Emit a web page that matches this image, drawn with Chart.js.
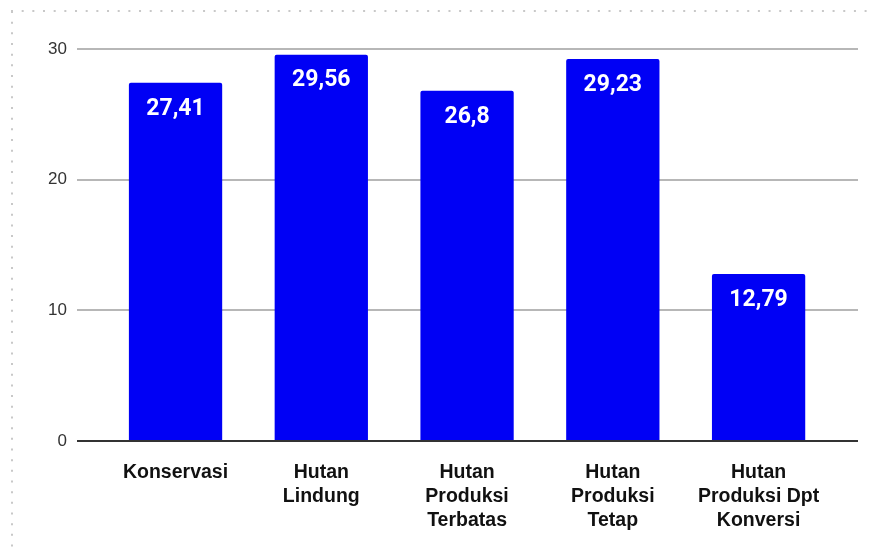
<!DOCTYPE html>
<html>
<head>
<meta charset="utf-8">
<script src="https://cdn.jsdelivr.net/npm/chart.js@4/dist/chart.umd.min.js"></script>
<style>
  html, body { margin: 0; padding: 0; background: #ffffff; }
  #wrap { width: 875px; height: 550px; position: relative; }
</style>
</head>
<body>
<div id="wrap"><canvas id="c" width="875" height="550"></canvas></div>
<script>
// Luas kawasan hutan per fungsi
const categories = [
  ['Konservasi'],
  ['Hutan', 'Lindung'],
  ['Hutan', 'Produksi', 'Terbatas'],
  ['Hutan', 'Produksi', 'Tetap'],
  ['Hutan', 'Produksi Dpt', 'Konversi']
];
const values = [27.41, 29.56, 26.8, 29.23, 12.79];
const yTicks = [0, 10, 20, 30];

const fmt = v => String(v).replace('.', ',');

// dotted frame along the top and left edges
const framePlugin = {
  id: 'frame',
  beforeDraw(chart) {
    const ctx = chart.ctx;
    ctx.save();
    ctx.fillStyle = '#ffffff';
    ctx.fillRect(0, 0, chart.width, chart.height);
    ctx.strokeStyle = '#c8c8c8';
    ctx.lineWidth = 2;
    ctx.setLineDash([2, 8.67]);
    ctx.beginPath();
    ctx.moveTo(11, 11);
    ctx.lineTo(chart.width, 11);
    ctx.moveTo(12, 11);
    ctx.lineTo(12, chart.height);
    ctx.stroke();
    ctx.restore();
  }
};

// value labels inside the top of each bar
const valueLabels = {
  id: 'valueLabels',
  afterDatasetsDraw(chart) {
    const ctx = chart.ctx;
    const meta = chart.getDatasetMeta(0);
    ctx.save();
    ctx.fillStyle = '#ffffff';
    ctx.font = 'bold 23px Roboto';
    ctx.textAlign = 'center';
    ctx.textBaseline = 'middle';
    meta.data.forEach((bar, i) => {
      ctx.fillText(fmt(values[i]), bar.x, bar.y + 26);
    });
    ctx.restore();
  }
};

new Chart(document.getElementById('c'), {
  type: 'bar',
  data: {
    datasets: [{
      data: values.map((v, i) => ({ x: i, y: v })),
      backgroundColor: '#0000f5',
      borderRadius: 2,
      categoryPercentage: 1,
      barPercentage: 0.64
    }]
  },
  options: {
    responsive: false,
    animation: false,
    layout: { padding: { left: 0, right: 17, top: 49, bottom: 0 } },
    plugins: { legend: { display: false }, tooltip: { enabled: false } },
    scales: {
      x: {
        type: 'linear',
        offset: false,
        min: -0.676,
        max: 4.682,
        grid: { display: false },
        border: { display: false },
        afterBuildTicks(scale) {
          scale.ticks = categories.map((_, i) => ({ value: i }));
        },
        afterFit(scale) { scale.height = 109; },
        ticks: {
          autoSkip: false,
          maxRotation: 0,
          padding: 12,
          color: '#111111',
          font: { family: 'Liberation Sans', size: 19.5, weight: 'bold', lineHeight: 1.23 },
          callback: v => categories[v]
        }
      },
      y: {
        min: 0,
        max: 30,
        afterBuildTicks(scale) {
          scale.ticks = yTicks.map(v => ({ value: v }));
        },
        afterFit(scale) { scale.width = 77; },
        border: { display: false },
        grid: {
          drawTicks: false,
          lineWidth: 2,
          color: c => (c.tick && c.tick.value === 0) ? '#333333' : '#b7b7b7'
        },
        ticks: {
          padding: 10,
          color: '#333333',
          font: { family: 'Liberation Sans', size: 17 }
        }
      }
    }
  },
  plugins: [framePlugin, valueLabels]
});
</script>
</body>
</html>
